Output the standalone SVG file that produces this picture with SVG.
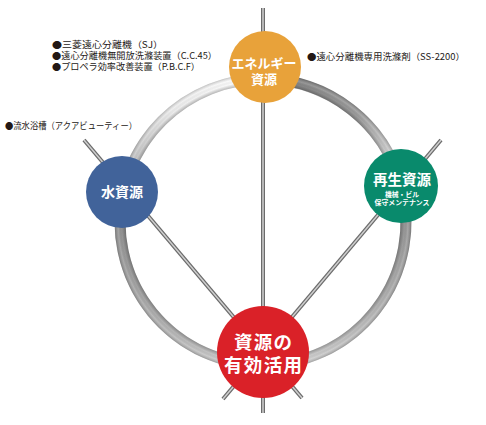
<svg xmlns="http://www.w3.org/2000/svg" width="486" height="425" viewBox="0 0 486 425">
  <style>
    .lbl { font-family: "Noto Sans CJK JP", "Noto Sans", sans-serif; font-size: 9px; fill: #231815; }
    .nt { font-family: "Noto Sans CJK JP", "Noto Sans", sans-serif; font-weight: bold; fill: #ffffff; text-anchor: middle; }
    .rodo { stroke: #6b6b6b; stroke-width: 4; stroke-linecap: butt; fill: none; }
    .rodi { stroke: #cfcfcf; stroke-width: 1.5; stroke-linecap: butt; fill: none; }
    .arc { fill: none; stroke-width: 11; }
  </style>
  <defs>
    <linearGradient id="g1" gradientUnits="userSpaceOnUse" x1="123" y1="192" x2="263" y2="79">
      <stop offset="0" stop-color="#b0b0b0"/>
      <stop offset="0.5" stop-color="#ececec"/>
      <stop offset="1" stop-color="#ffffff"/>
    </linearGradient>
    <linearGradient id="g2" gradientUnits="userSpaceOnUse" x1="263" y1="79" x2="401" y2="186">
      <stop offset="0" stop-color="#7a7a7a"/>
      <stop offset="0.55" stop-color="#9a9a9a"/>
      <stop offset="1" stop-color="#e8e8e8"/>
    </linearGradient>
    <linearGradient id="g3" gradientUnits="userSpaceOnUse" x1="401" y1="186" x2="263" y2="365">
      <stop offset="0" stop-color="#8c8c8c"/>
      <stop offset="0.5" stop-color="#b4b4b4"/>
      <stop offset="1" stop-color="#d4d4d4"/>
    </linearGradient>
    <linearGradient id="g4" gradientUnits="userSpaceOnUse" x1="263" y1="365" x2="123" y2="192">
      <stop offset="0" stop-color="#d0d0d0"/>
      <stop offset="0.5" stop-color="#acacac"/>
      <stop offset="1" stop-color="#8a8a8a"/>
    </linearGradient>
    <radialGradient id="tube" gradientUnits="userSpaceOnUse" cx="263" cy="222" r="148.5">
      <stop offset="0.926" stop-color="#000" stop-opacity="0.25"/>
      <stop offset="0.952" stop-color="#000" stop-opacity="0"/>
      <stop offset="0.975" stop-color="#fff" stop-opacity="0.15"/>
      <stop offset="1" stop-color="#000" stop-opacity="0.22"/>
    </radialGradient>
  </defs>

  <g id="connectors">
    <line class="rodo" x1="263" y1="8" x2="263" y2="413"/>
    <line class="rodi" x1="263" y1="8" x2="263" y2="413"/>
    <line class="rodo" x1="84" y1="140" x2="302" y2="398"/>
    <line class="rodi" x1="84" y1="140" x2="302" y2="398"/>
    <line class="rodo" x1="441" y1="140" x2="223" y2="399"/>
    <line class="rodi" x1="441" y1="140" x2="223" y2="399"/>
    <path class="arc" stroke="url(#g1)" d="M123.2,192.3 A143,143 0 0 1 263,79"/>
    <path class="arc" stroke="url(#g2)" d="M263,79 A143,143 0 0 1 401.3,185.7"/>
    <path class="arc" stroke="url(#g3)" d="M401.3,185.7 A143,143 0 0 1 263,365"/>
    <path class="arc" stroke="url(#g4)" d="M263,365 A143,143 0 0 1 123.2,192.3"/>
    <circle cx="263" cy="222" r="143" fill="none" stroke="url(#tube)" stroke-width="11"/>
  </g>

  <g id="labels">
    <text class="lbl"><tspan x="52" y="48" textLength="111" lengthAdjust="spacingAndGlyphs">●三菱遠心分離機（SJ）</tspan><tspan x="52" y="59" textLength="165" lengthAdjust="spacingAndGlyphs">●遠心分離機無開放洗滌装置（C.C.45）</tspan><tspan x="52" y="70" textLength="148" lengthAdjust="spacingAndGlyphs">●プロペラ効率改善装置（P.B.C.F）</tspan></text>
    <text class="lbl" x="5" y="128.5" textLength="132" lengthAdjust="spacingAndGlyphs">●流水浴槽（アクアビューティー）</text>
    <text class="lbl" x="307" y="59.5" textLength="158" lengthAdjust="spacingAndGlyphs">●遠心分離機専用洗滌剤（SS-2200）</text>
  </g>

  <g id="node-energy">
    <circle cx="265" cy="67" r="36" fill="#E8A23A"/>
    <text class="nt" font-size="13"><tspan x="264" y="68">エネルギー</tspan><tspan x="264" y="84">資源</tspan></text>
  </g>

  <g id="node-water">
    <circle cx="122" cy="192" r="36" fill="#41639A"/>
    <text class="nt" x="122" y="197" font-size="14">水資源</text>
  </g>

  <g id="node-recycle">
    <circle cx="401" cy="186" r="37" fill="#098A6C"/>
    <text class="nt"><tspan x="402" y="185" font-size="14.5">再生資源</tspan><tspan x="402" y="196.5" font-size="6.8">機械・ビル</tspan><tspan x="402" y="205" font-size="6.8" textLength="55" lengthAdjust="spacingAndGlyphs">保守メンテナンス</tspan></text>
  </g>

  <g id="node-effective">
    <circle cx="263" cy="352" r="46" fill="#DA2128"/>
    <text class="nt" font-size="18.5"><tspan x="263" y="349" textLength="58" lengthAdjust="spacing">資源の</tspan><tspan x="263" y="372" textLength="78" lengthAdjust="spacing">有効活用</tspan></text>
  </g>
</svg>
